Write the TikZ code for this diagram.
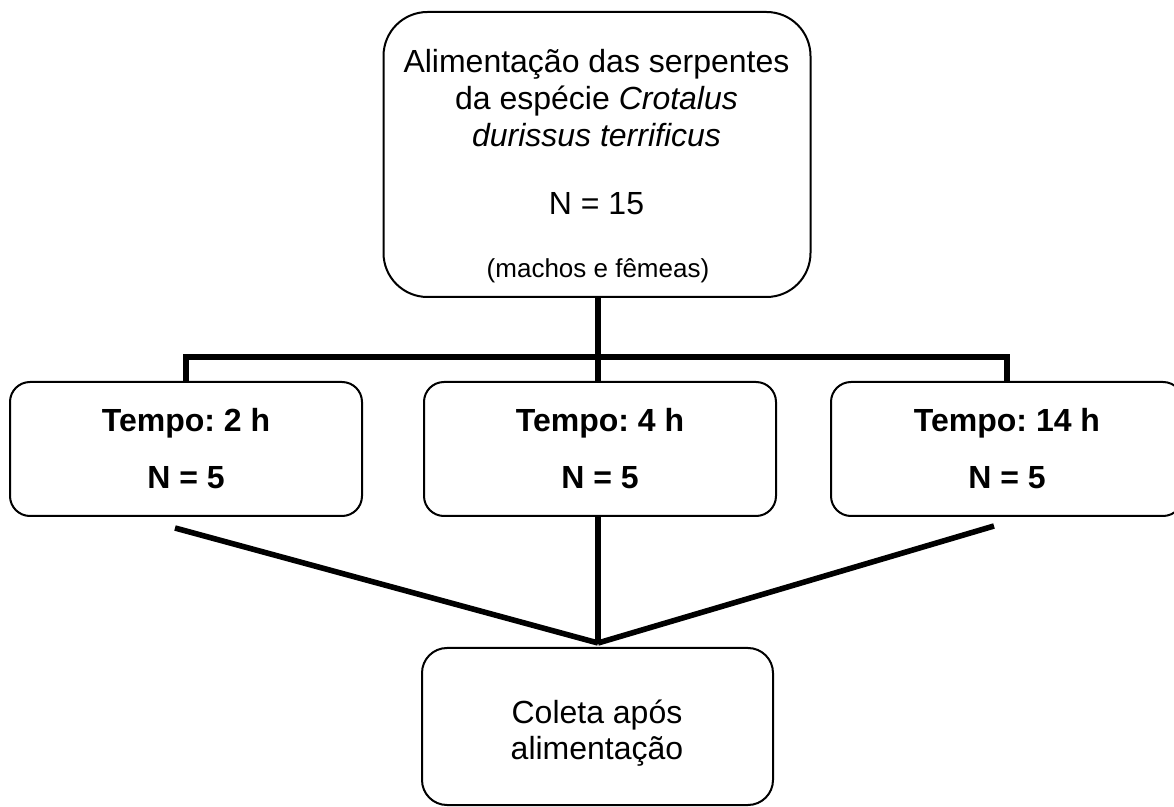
\documentclass[tikz,border=0pt]{standalone}
\usepackage{fontspec}
\setmainfont{Liberation Sans}
\frenchspacing
\begin{document}
\begin{tikzpicture}[x=0.5pt,y=-0.5pt,
  box/.style={draw,line width=1pt,inner sep=0pt,minimum width=176pt},
  conn/.style={line width=2.8pt},
  txt/.style={anchor=base,inner sep=0pt,font=\fontsize{16}{18.4}\selectfont},
  tbox/.style={box,align=center,minimum height=67pt,rounded corners=10pt,
    font=\fontsize{16}{28.5}\selectfont\bfseries}]
\useasboundingbox (0,0) rectangle (1174,807);
% boxes
\node[box,minimum width=213.5pt,minimum height=142.5pt,rounded corners=22pt] (top) at (597,154.5) {};
\node[tbox] (left) at (186,449) {Tempo: 2 h\\N = 5};
\node[tbox] (mid) at (600,449) {Tempo: 4 h\\N = 5};
\node[tbox] (right) at (1007,449) {Tempo: 14 h\\N = 5};
\node[box,minimum width=175.5pt,minimum height=78.5pt,rounded corners=12.5pt] (coleta) at (597.5,726.5) {};
% texts
\node[txt] (t1) at (596.5,73) {Alimentação das serpentes};
\node[txt] (t2) at (596.5,110) {da espécie \textit{Crotalus}};
\node[txt] (t3) at (596.5,147) {\textit{durissus terrificus}};
\node[txt] (t4) at (596.5,215) {N = 15};
\node[txt,font=\fontsize{13}{15}\selectfont] (t5) at (598,278) {(machos e fêmeas)};
\node[txt] (c1) at (597,724) {Coleta após};
\node[txt] (c2) at (597,760) {alimentação};
% connectors
\coordinate (hub) at (598,357);
\coordinate (meet) at (598,643);
\coordinate (la) at (175,528);
\coordinate (ra) at (994,526);
\draw[conn] (hub |- top.south) -- (hub);
\draw[conn] (left.north) |- (hub) -| (right.north);
\draw[conn] (hub) -- (hub |- mid.north);
\draw[conn] (la) -- (meet);
\draw[conn] (meet |- mid.south) -- (meet);
\draw[conn] (ra) -- (meet);
\end{tikzpicture}
\end{document}
